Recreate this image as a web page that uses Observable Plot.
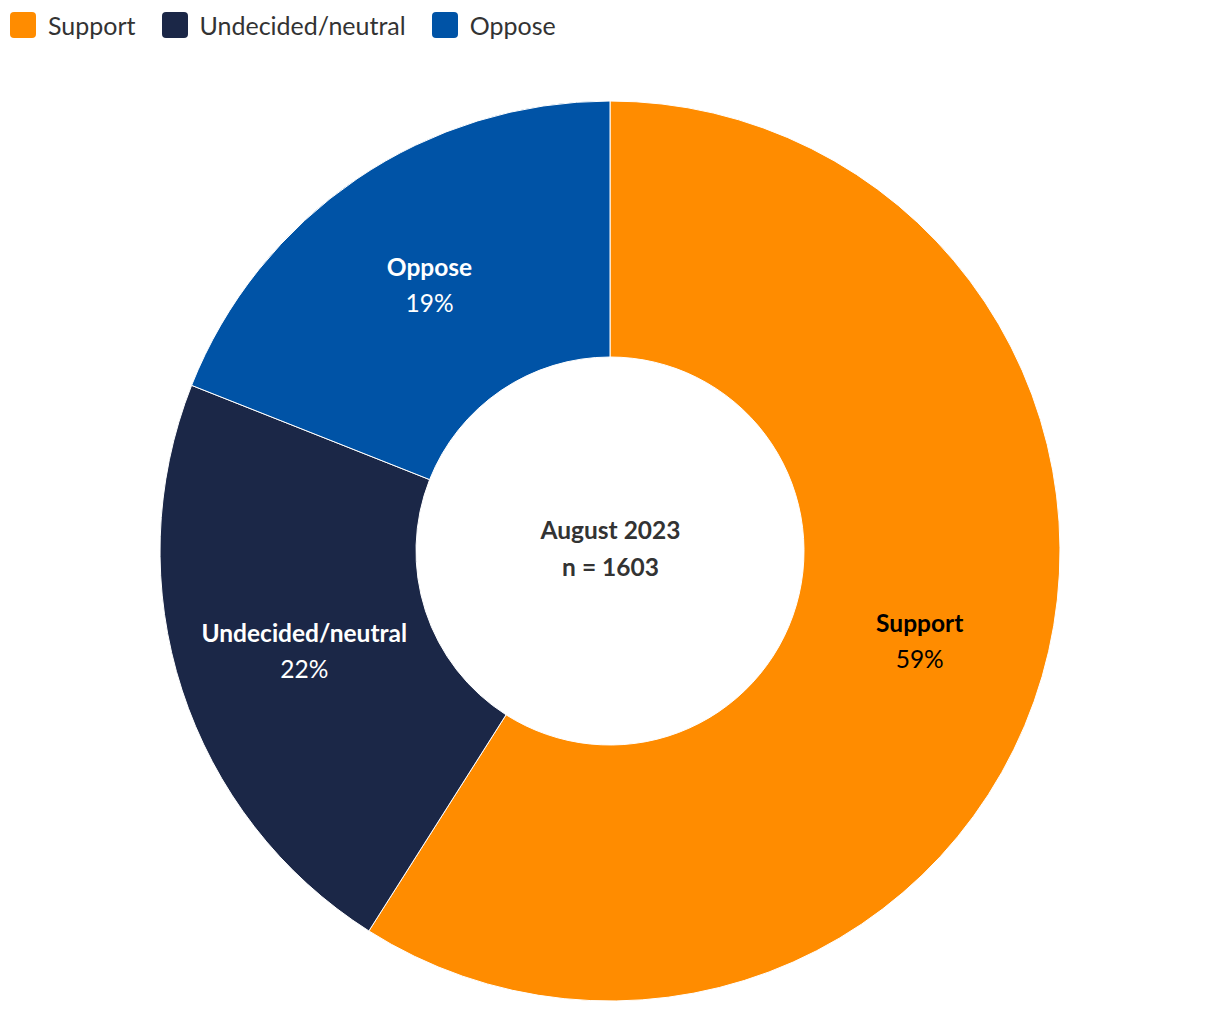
<!DOCTYPE html>
<html>
<head>
<meta charset="utf-8">
<script src="https://cdn.jsdelivr.net/npm/d3@7"></script>
<script src="https://cdn.jsdelivr.net/npm/@observablehq/plot@0.6"></script>
<style>
  body { margin: 0; background: #fff; font-family: Lato, "Open Sans", sans-serif; }
  #legend { display: flex; align-items: center; height: 50px; padding-left: 10px; font-size: 25px; color: #333; }
  .item { display: flex; align-items: center; margin-right: 26px; }
  .swatch { width: 26px; height: 26px; border-radius: 4px; margin-right: 12px; }
  #chart svg { display: block; }
</style>
</head>
<body>
<div id="legend"></div>
<div id="chart"></div>
<script>
const categories = ["Support", "Undecided/neutral", "Oppose"];
const values = [59, 22, 19];
const colors = ["#ff8c00", "#1b2747", "#0053a6"];
const labelColors = ["#000000", "#ffffff", "#ffffff"];
const centerLines = ["August 2023", "n = 1603"];

const W = 1220, H = 962;
const cx = 610, cy = 501;
const outerR = 450, innerR = 194;

const data = categories.map((c, i) => ({category: c, value: values[i]}));
const total = d3.sum(values);
const arcs = d3.pie().sort(null).value(d => d.value)(data);
const arcGen = d3.arc().innerRadius(innerR).outerRadius(outerR);
const labelData = arcs.map((a, i) => {
  const [x, y] = arcGen.centroid(a);
  return {x, y, name: a.data.category, pct: Math.round(a.data.value / total * 100) + "%", textColor: labelColors[i]};
});

// legend
const legend = document.getElementById("legend");
categories.forEach((c, i) => {
  const item = document.createElement("div");
  item.className = "item";
  item.innerHTML = `<span class="swatch" style="background:${colors[i]}"></span><span>${c}</span>`;
  legend.appendChild(item);
});

const donut = (index, scales, vals, dims) => {
  const color = scales.color ? scales.color : (c => colors[categories.indexOf(c)]);
  const x0 = scales.x(0), y0 = scales.y(0);
  const k = scales.x(1) - scales.x(0);
  const g = d3.create("svg:g").attr("transform", `translate(${x0},${y0})`);
  const arcPx = d3.arc().innerRadius(innerR * k).outerRadius(outerR * k);
  g.selectAll("path").data(arcs).join("path")
    .attr("d", arcPx)
    .attr("fill", d => color(d.data.category))
    .attr("stroke", "#fff")
    .attr("stroke-width", 1)
    .attr("stroke-linejoin", "round");
  return g.node();
};

const textFont = "Lato, 'Open Sans', sans-serif";
const fs = 24.5;
const chart = Plot.plot({
  width: W,
  height: H,
  margin: 0,
  x: {domain: [-cx, W - cx], range: [0, W], axis: null},
  y: {domain: [-cy, H - cy], range: [0, H], axis: null},
  color: {domain: categories, range: colors},
  style: {fontFamily: textFont, background: "#fff"},
  marks: [
    donut,
    Plot.text(labelData, {x: "x", y: "y", text: "name", dy: -17, fontSize: fs, fontWeight: "bold", filter: d => d.textColor === "#000000", fill: "#000"}),
    Plot.text(labelData, {x: "x", y: "y", text: "pct", dy: 19, fontSize: fs, filter: d => d.textColor === "#000000", fill: "#000"}),
    Plot.text(labelData, {x: "x", y: "y", text: "name", dy: -17, fontSize: fs, fontWeight: "bold", filter: d => d.textColor === "#ffffff", fill: "#fff"}),
    Plot.text(labelData, {x: "x", y: "y", text: "pct", dy: 19, fontSize: fs, filter: d => d.textColor === "#ffffff", fill: "#fff"}),
    Plot.text([centerLines[0]], {x: () => 0, y: () => 0, text: d => d, dy: -20, fontSize: fs, fontWeight: "bold", fill: "#333"}),
    Plot.text([centerLines[1]], {x: () => 0, y: () => 0, text: d => d, dy: 17, fontSize: fs, fontWeight: "bold", fill: "#333"})
  ]
});
document.getElementById("chart").appendChild(chart);
</script>
</body>
</html>
